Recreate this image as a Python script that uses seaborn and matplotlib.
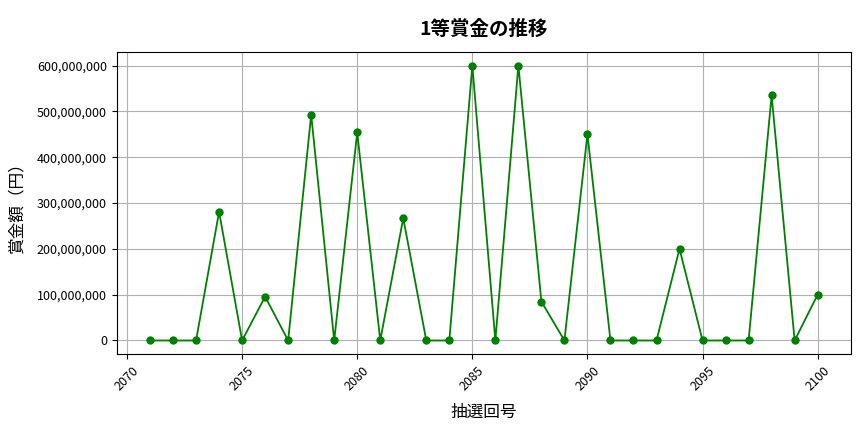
import matplotlib
matplotlib.use("Agg")
import matplotlib.pyplot as plt
import matplotlib.ticker as mticker
import seaborn as sns
import pandas as pd

draws = list(range(2071, 2101))
prizes = [0, 0, 0, 281000000, 0, 95700000, 0, 493000000, 0, 454000000,
          0, 267000000, 0, 0, 600000000, 0, 600000000, 85000000, 0, 450000000,
          0, 0, 0, 200000000, 0, 0, 0, 535000000, 0, 100000000]

df = pd.DataFrame({"draw": draws, "prize": prizes})

plt.rcParams['font.family'] = ['Noto Sans CJK JP', 'DejaVu Sans']
fig, ax = plt.subplots(figsize=(8.64, 4.32), dpi=100)
sns.lineplot(data=df, x="draw", y="prize", color="green", marker="o",
             markersize=6, markeredgewidth=0, linewidth=1.3, ax=ax)
ax.grid(True, color="#b0b0b0", linewidth=0.8)
ax.set_title("1等賞金の推移", fontsize=14, fontweight="bold", pad=12)
ax.set_xlabel("抽選回号", fontsize=12, labelpad=8)
ax.set_ylabel("賞金額（円）", fontsize=12, labelpad=8)
ax.yaxis.set_major_formatter(mticker.FuncFormatter(lambda v, p: f"{int(v):,}"))
ax.xaxis.set_major_locator(mticker.MultipleLocator(5))
plt.setp(ax.get_xticklabels(), rotation=45)
ax.tick_params(labelsize=9)
fig.subplots_adjust(left=0.135, right=0.985, top=0.88, bottom=0.18)
fig.savefig("out.png", dpi=100)
